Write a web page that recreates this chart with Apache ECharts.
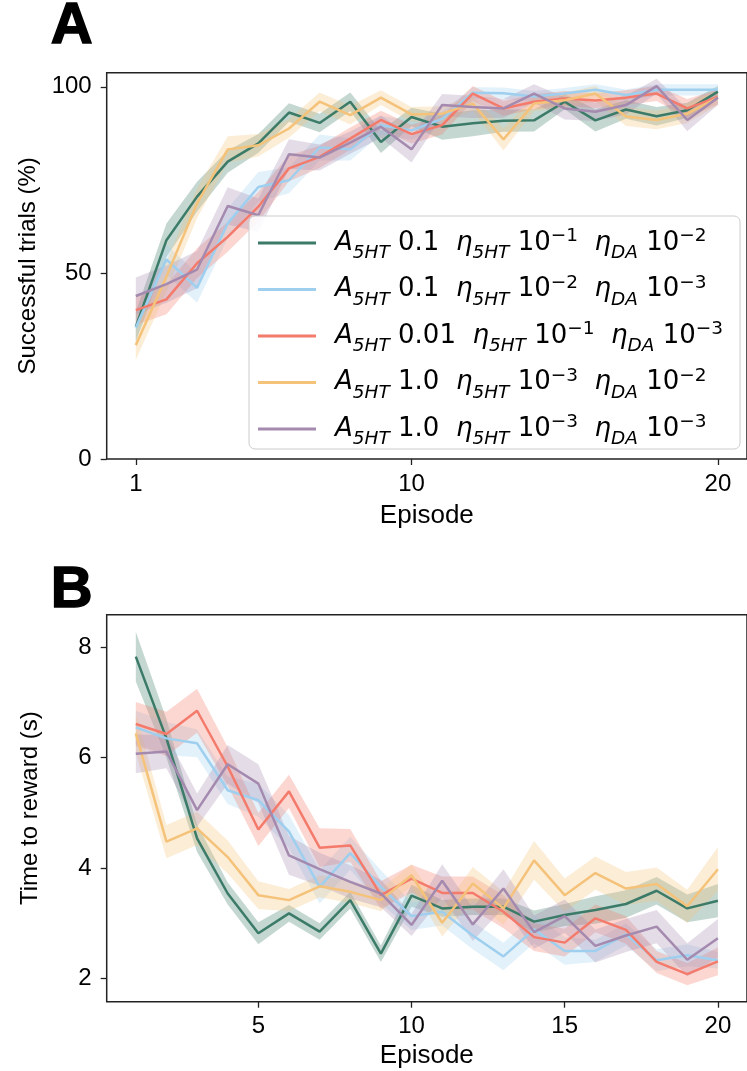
<!DOCTYPE html>
<html>
<head>
<meta charset="utf-8">
<script src="https://cdn.jsdelivr.net/npm/echarts@6/dist/echarts.min.js"></script>
<style>
html, body { margin: 0; padding: 0; background: #fff; }
#chart { width: 747px; height: 1071px; }
</style>
</head>
<body>
<div id="chart"></div>
<script>
var episodes = [1, 2, 3, 4, 5, 6, 7, 8, 9, 10, 11, 12, 13, 14, 15, 16, 17, 18, 19, 20];

var names = ['g', 'b', 'r', 'o', 'p'];
var colors = ['#3b7b68', '#9ecfee', '#f47a6b', '#f5c27a', '#a48aaf'];
var amp = ['0.1', '0.1', '0.01', '1.0', '1.0'];
var eta5 = ['\u22121', '\u22122', '\u22121', '\u22123', '\u22123'];
var etaDA = ['\u22122', '\u22123', '\u22123', '\u22122', '\u22123'];

// panel A: successful trials (%)
var succ_g = [35.5, 58.8, 70.5, 79.9, 84.8, 93.1, 90.3, 96.0, 85.2, 91.9, 89.3, 90.2, 90.9, 91.0, 96.0, 91.0, 93.9, 92.1, 93.7, 98.7];
var succ_b = [35.3, 53.6, 46.0, 63.3, 73.1, 74.9, 83.7, 83.2, 89.7, 88.3, 91.4, 98.4, 98.3, 97.4, 98.2, 99.2, 97.8, 99.2, 99.2, 99.2];
var succ_r = [40.0, 42.9, 52.6, 59.7, 67.8, 78.1, 81.2, 86.1, 91.1, 87.3, 89.7, 98.2, 94.2, 96.0, 96.9, 96.3, 97.1, 98.2, 94.2, 97.3];
var succ_o = [30.6, 49.0, 68.7, 83.2, 84.3, 88.8, 96.0, 92.4, 97.1, 92.6, 92.8, 95.5, 85.9, 95.5, 96.4, 98.2, 92.0, 91.1, 92.8, 97.1];
var succ_p = [43.8, 47.0, 50.9, 68.0, 65.5, 81.9, 81.0, 85.0, 89.3, 83.2, 95.1, 94.6, 94.2, 98.2, 94.2, 93.3, 95.1, 100.2, 91.1, 97.1];

var succErr_g = [4, 4.5, 4, 3, 2.5, 2.5, 2.5, 2.5, 3, 2.5, 3.5, 3.5, 3, 3, 2, 3, 2.5, 2.5, 2, 1.5];
var succErr_b = [3, 4, 4, 4, 4, 3.5, 3.5, 3, 2.5, 2.5, 2, 1.5, 1.5, 1.5, 1.5, 1.5, 1.5, 1.5, 1.5, 1.5];
var succErr_r = [4, 4, 4, 4, 4, 3.5, 3, 3, 2.5, 2.5, 2.5, 2, 2, 2, 2, 2, 2, 2, 2.5, 2];
var succErr_o = [4, 4, 4, 3.5, 3, 2.5, 2.5, 2.5, 2, 2, 2, 2, 3, 2, 2, 2, 2.5, 2.5, 2.5, 2];
var succErr_p = [5, 5, 5, 5, 4.5, 4, 3.5, 3, 3, 3.5, 3, 3, 2.5, 2.5, 3, 2.5, 2.5, 2, 3, 2];

// panel B: time to reward (s)
var time_g = [7.83, 6.35, 4.54, 3.54, 2.82, 3.18, 2.85, 3.42, 2.45, 3.50, 3.27, 3.30, 3.30, 3.03, 3.15, 3.24, 3.35, 3.59, 3.27, 3.41];
var time_b = [6.55, 6.35, 6.26, 5.41, 5.23, 4.66, 3.66, 4.27, 3.66, 3.13, 3.21, 2.78, 2.40, 2.89, 2.50, 2.50, 2.80, 2.33, 2.42, 2.33];
var time_r = [6.61, 6.43, 6.85, 5.84, 4.70, 5.39, 4.37, 4.41, 3.51, 3.81, 3.55, 3.55, 3.21, 2.75, 2.65, 3.09, 2.88, 2.30, 2.08, 2.31];
var time_o = [6.44, 4.48, 4.72, 4.20, 3.51, 3.42, 3.67, 3.57, 3.42, 3.87, 3.01, 3.72, 3.27, 4.14, 3.51, 3.91, 3.63, 3.71, 3.31, 3.98];
var time_p = [6.07, 6.11, 5.05, 5.88, 5.53, 4.23, 3.98, 3.75, 3.54, 2.97, 3.77, 2.98, 3.63, 2.84, 3.13, 2.59, 2.78, 2.94, 2.34, 2.73];

var timeErr_g = [0.45, 0.35, 0.25, 0.2, 0.2, 0.15, 0.15, 0.15, 0.15, 0.2, 0.15, 0.15, 0.15, 0.2, 0.2, 0.25, 0.25, 0.25, 0.25, 0.3];
var timeErr_b = [0.3, 0.3, 0.25, 0.25, 0.3, 0.3, 0.3, 0.3, 0.3, 0.25, 0.25, 0.25, 0.25, 0.25, 0.25, 0.2, 0.2, 0.2, 0.2, 0.15];
var timeErr_r = [0.4, 0.4, 0.4, 0.35, 0.3, 0.3, 0.35, 0.3, 0.25, 0.25, 0.3, 0.3, 0.3, 0.25, 0.25, 0.25, 0.25, 0.2, 0.2, 0.25];
var timeErr_o = [0.35, 0.3, 0.3, 0.3, 0.25, 0.2, 0.2, 0.2, 0.2, 0.2, 0.25, 0.3, 0.3, 0.35, 0.3, 0.3, 0.3, 0.3, 0.3, 0.4];
var timeErr_p = [0.35, 0.3, 0.3, 0.35, 0.35, 0.35, 0.3, 0.3, 0.25, 0.2, 0.3, 0.3, 0.35, 0.3, 0.3, 0.3, 0.3, 0.3, 0.3, 0.35];

var succTicks = [0, 50, 100];
var timeTicks = [2, 4, 6, 8];
var episodeTicksA = [1, 10, 20];
var episodeTicksB = [5, 10, 15, 20];

var FONT = '"Liberation Sans", Arial, sans-serif';
var MATH = '"DejaVu Sans", sans-serif';
var myChart = echarts.init(document.getElementById('chart'));

function bandSeries(panel, mean, err, color) {
	return {
		type: 'custom',
		xAxisIndex: panel,
		yAxisIndex: panel,
		silent: true,
		z: 1,
		data: [[episodes[0], mean[0]]],
		renderItem: function (params, api) {
			var pts = [];
			for (var i = 0; i < episodes.length; i++) {
				pts.push(api.coord([episodes[i], mean[i] + err[i]]));
			}
			for (var j = episodes.length - 1; j >= 0; j--) {
				pts.push(api.coord([episodes[j], mean[j] - err[j]]));
			}
			return {
				type: 'polygon',
				shape: { points: pts },
				style: { fill: echarts.color.modifyAlpha(color, 0.3) }
			};
		}
	};
}

function lineSeries(panel, mean, i) {
	return {
		type: 'line',
		name: panel === 0 ? names[i] : names[i] + '_t',
		xAxisIndex: panel,
		yAxisIndex: panel,
		data: episodes.map(function (e, k) { return [e, mean[k]]; }),
		showSymbol: false,
		symbol: 'none',
		z: 2,
		color: colors[i],
		lineStyle: { color: colors[i], width: 2.5 }
	};
}

var succ = [succ_g, succ_b, succ_r, succ_o, succ_p];
var succErr = [succErr_g, succErr_b, succErr_r, succErr_o, succErr_p];
var time = [time_g, time_b, time_r, time_o, time_p];
var timeErr = [timeErr_g, timeErr_b, timeErr_r, timeErr_o, timeErr_p];

var series = [];
for (var i = 0; i < 5; i++) {
	series.push(bandSeries(0, succ[i], succErr[i], colors[i]));
	series.push(lineSeries(0, succ[i], i));
}
for (var i = 0; i < 5; i++) {
	series.push(bandSeries(1, time[i], timeErr[i], colors[i]));
	series.push(lineSeries(1, time[i], i));
}

function xAxis(grid, ticks, gap) {
	return {
		type: 'value',
		gridIndex: grid,
		min: 0.05,
		max: 20.95,
		axisLine: { show: false },
		splitLine: { show: false },
		axisTick: { length: 6, lineStyle: { color: '#222', width: 1.3 }, customValues: ticks },
		axisLabel: { customValues: ticks, fontSize: 24, color: '#000', fontFamily: FONT, margin: 13 },
		name: 'Episode',
		nameLocation: 'middle',
		nameGap: gap,
		nameTextStyle: { fontSize: 26, color: '#000', fontFamily: FONT }
	};
}

function yAxis(grid, min, max, ticks, name) {
	return {
		type: 'value',
		gridIndex: grid,
		min: min,
		max: max,
		axisLine: { show: false },
		splitLine: { show: false },
		axisTick: { length: 6, lineStyle: { color: '#222', width: 1.3 }, customValues: ticks },
		axisLabel: { customValues: ticks, fontSize: 24, color: '#000', fontFamily: FONT, margin: 15 },
		name: name,
		nameLocation: 'middle',
		nameGap: 64,
		nameTextStyle: { fontSize: 24, color: '#000', fontFamily: FONT }
	};
}

var option = {
	animation: false,
	backgroundColor: '#fff',
	graphic: [
		{ type: 'text', left: 50, top: -3, style: { text: 'A', fontSize: 58, fontWeight: 'bold', fontFamily: FONT, fill: '#000', stroke: '#000', lineWidth: 1.5 } },
		{ type: 'text', left: 50, top: 561, style: { text: 'B', fontSize: 58, fontWeight: 'bold', fontFamily: FONT, fill: '#000', stroke: '#000', lineWidth: 1.5 } }
	],
	grid: [
		{ left: 106.7, top: 72.7, width: 648, height: 386.3, show: true, borderColor: '#222', borderWidth: 1.5, backgroundColor: 'transparent' },
		{ left: 106.7, top: 614.7, width: 648, height: 387, show: true, borderColor: '#222', borderWidth: 1.5, backgroundColor: 'transparent' }
	],
	xAxis: [xAxis(0, episodeTicksA, 44), xAxis(1, episodeTicksB, 41)],
	yAxis: [yAxis(0, 0, 103.8, succTicks, 'Successful trials (%)'), yAxis(1, 1.58, 8.59, timeTicks, 'Time to reward (s)')],
	legend: {
		data: names,
		orient: 'vertical',
		left: 249,
		top: 216,
		icon: 'rect',
		itemWidth: 58,
		itemHeight: 3,
		itemGap: 6.5,
		padding: [7, 17, 0, 9],
		backgroundColor: 'rgba(255,255,255,0.85)',
		borderColor: '#cccccc',
		borderWidth: 1,
		borderRadius: 6,
		selectedMode: false,
		formatter: function (name) {
			var i = names.indexOf(name);
			return '{it|A}{sub|5HT}{t| ' + amp[i] + '  }{it|\u03b7}{sub|5HT}{t| 10}{sup|' + eta5[i] +
				'}{t|  }{it|\u03b7}{sub|DA}{t| 10}{sup|' + etaDA[i] + '}';
		},
		textStyle: {
			color: '#000',
			fontFamily: MATH,
			fontSize: 26,
			padding: [0, 0, 0, 14],
			rich: {
				t: { fontSize: 26, fontFamily: MATH, color: '#000', lineHeight: 40, verticalAlign: 'middle' },
				it: { fontSize: 26, fontFamily: MATH, fontStyle: 'italic', color: '#000', lineHeight: 40, verticalAlign: 'middle' },
				sub: { fontSize: 18.5, fontFamily: MATH, fontStyle: 'italic', color: '#000', lineHeight: 18, verticalAlign: 'bottom' },
				sup: { fontSize: 18.5, fontFamily: MATH, color: '#000', lineHeight: 18, verticalAlign: 'top', padding: [4, 0, 0, 0] }
			}
		}
	},
	series: series
};

myChart.setOption(option);
</script>
</body>
</html>
